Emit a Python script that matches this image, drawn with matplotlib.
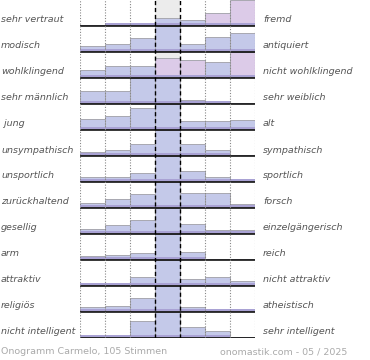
import numpy as np
import matplotlib
matplotlib.use('Agg')
import matplotlib.pyplot as plt

# Begriffspaare links / rechts
left_labels = ['sehr vertraut', 'modisch', 'wohlklingend', 'sehr männlich', ' jung',
               'unsympathisch', 'unsportlich', 'zurückhaltend', 'gesellig', 'arm',
               'attraktiv', 'religiös', 'nicht intelligent']
right_labels = ['fremd', 'antiquiert', 'nicht wohlklingend', 'sehr weiblich', 'alt',
                'sympathisch', 'sportlich', 'forsch', 'einzelgängerisch', 'reich',
                'nicht attraktiv', 'atheistisch', 'sehr intelligent']

# Anteil je Stufe (7 Stufen), relativ zum Maximum der Zeile in %
values = [
    [0, 5, 9, 27, 20, 47, 100],
    [20, 27, 53, 100, 29, 57, 73],
    [27, 44, 43, 77, 67, 60, 100],
    [47, 47, 100, 100, 13, 7, 0],
    [40, 51, 84, 100, 33, 31, 37],
    [13, 20, 44, 100, 44, 20, 0],
    [16, 16, 33, 100, 40, 16, 8],
    [16, 33, 53, 100, 56, 56, 11],
    [17, 31, 53, 100, 37, 11, 11],
    [11, 16, 24, 100, 29, 0, 0],
    [4, 9, 33, 100, 24, 33, 17],
    [17, 21, 51, 100, 17, 7, 7],
    [3, 9, 64, 100, 40, 23, 0],
]
# Zellen mit rötlichem Farbton (Zeile, Spalte)
pinkish = {(0, 6), (0, 5), (2, 3), (2, 4), (2, 6)}

footer_left = 'Onogramm Carmelo, 105 Stimmen'
footer_right = 'onomastik.com - 05 / 2025'

W, H = 370, 360
fig = plt.figure(figsize=(W / 100, H / 100), dpi=100)
fig.patch.set_facecolor('white')

n_rows = len(values)
pitch = 26.0            # Zeilenabstand in px
top_px, bottom_px = 0, 338
ax = fig.add_axes([80 / W, 1 - bottom_px / H, 175 / W, (bottom_px - top_px) / H])
ax.set_xlim(0, 7)
ax.set_ylim(bottom_px / pitch, 0)
ax.axis('off')

base_off = 25 / pitch   # Grundlinie innerhalb der Zeile
full = 25 / pitch       # maximale Balkenhöhe

# graue Mittelspalte
ax.axvspan(3, 4, color='#ececec', zorder=0, lw=0)

x = np.arange(7)
for i, row in enumerate(values):
    base = i + base_off
    h = np.array(row) / 100 * full
    cols = ['#dccbe8' if (i, j) in pinkish else '#c4c9e9' for j in range(7)]
    ax.bar(x, -h, bottom=base, width=1, align='edge', color=cols,
           edgecolor='#a8a8b0', linewidth=0.7, zorder=2)
    # dunklerer Streifen unten
    strip = np.where(np.array(row) > 0, 2.5 / pitch, 0)
    ax.bar(x, -strip, bottom=base, width=1, align='edge', color='#a9a2d4',
           linewidth=0, zorder=3)
    ax.plot([0, 7], [base + 0.02, base + 0.02], color='black', lw=1.1, zorder=4)

    fig.text(1 / W, 1 - (base * pitch - 5) / H, left_labels[i], fontsize=6.8,
             style='italic', color='#555555', va='center', ha='left')
    fig.text(263 / W, 1 - (base * pitch - 5) / H, right_labels[i], fontsize=6.8,
             style='italic', color='#555555', va='center', ha='left')

# Spaltenlinien
for xv in [0, 1, 2, 5, 6, 7]:
    ax.axvline(xv, color='#888888', lw=0.8, ls=(0, (1, 1.5)), zorder=5)
for xv in [3, 4]:
    ax.axvline(xv, color='black', lw=1.0, ls=(0, (3, 2)), zorder=5)

fig.text(1 / W, 1 - 352 / H, footer_left, fontsize=6.8, color='#aaaaaa',
         va='center', ha='left')
fig.text(220 / W, 1 - 352 / H, footer_right, fontsize=6.8, color='#aaaaaa',
         va='center', ha='left')

fig.savefig('out.png', dpi=100)
